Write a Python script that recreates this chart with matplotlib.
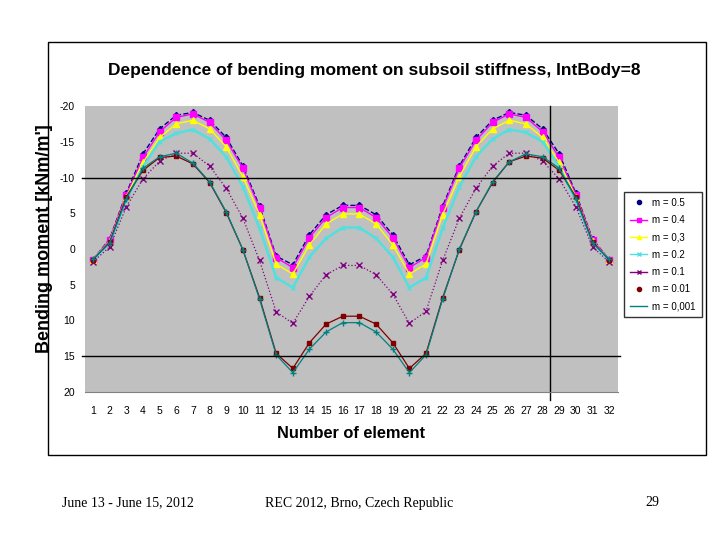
"""Bending moment vs. element number for several subsoil stiffness values."""
import matplotlib
matplotlib.use("Agg")
import matplotlib.pyplot as plt
from matplotlib.lines import Line2D
from matplotlib.patches import Rectangle
import numpy as np

plt.rcParams["font.family"] = ["Liberation Sans", "DejaVu Sans"]

elements = np.arange(1, 33)

m_05 = [1.5, -1.4, -7.8, -13.3, -16.8, -18.7, -19.1, -18.0, -15.6, -11.6, -6.0, 1.0,
        2.2, -2.0, -4.8, -6.1, -6.1, -4.8, -2.0, 2.2, 1.0, -6.0, -11.6, -15.6,
        -18.0, -19.1, -18.7, -16.8, -13.3, -7.8, -1.4, 1.5]
m_04 = [1.5, -1.3, -7.6, -12.8, -16.4, -18.4, -18.9, -17.7, -15.2, -11.3, -5.7, 1.2,
        2.6, -1.6, -4.4, -5.8, -5.8, -4.4, -1.6, 2.6, 1.2, -5.7, -11.3, -15.2,
        -17.7, -18.9, -18.4, -16.4, -12.8, -7.6, -1.3, 1.5]
m_03 = [1.5, -1.1, -7.3, -12.1, -15.6, -17.5, -18.0, -16.8, -14.3, -10.1, -4.8, 2.1,
        3.5, -0.6, -3.5, -4.9, -4.9, -3.5, -0.6, 3.5, 2.1, -4.8, -10.1, -14.3,
        -16.8, -18.0, -17.5, -15.6, -12.1, -7.3, -1.1, 1.5]
m_02 = [1.6, -0.9, -6.8, -11.5, -15.0, -16.2, -16.7, -15.4, -12.9, -8.7, -2.9, 4.0,
        5.4, 1.1, -1.5, -3.0, -3.0, -1.5, 1.1, 5.4, 4.0, -2.9, -8.7, -12.9,
        -15.4, -16.7, -16.3, -15.0, -11.5, -6.8, -0.9, 1.6]
m_01 = [1.8, -0.3, -5.9, -9.8, -12.3, -13.4, -13.4, -11.6, -8.5, -4.3, 1.6, 8.8,
        10.4, 6.6, 3.6, 2.3, 2.3, 3.6, 6.3, 10.4, 8.7, 1.6, -4.3, -8.5,
        -11.6, -13.4, -13.4, -12.3, -9.8, -5.9, -0.3, 1.8]
m_001 = [1.5, -1.0, -7.3, -11.0, -12.8, -13.0, -11.9, -9.3, -5.1, 0.1, 6.8, 14.6,
         16.7, 13.1, 10.5, 9.4, 9.4, 10.5, 13.1, 16.7, 14.6, 6.8, 0.1, -5.2,
         -9.3, -12.2, -13.0, -12.7, -11.0, -7.3, -1.0, 1.5]
m_0001 = [1.4, -0.8, -7.0, -11.3, -12.9, -13.4, -12.0, -9.4, -5.2, 0.1, 7.0, 14.8,
          17.3, 14.0, 11.6, 10.3, 10.3, 11.6, 14.0, 17.3, 14.8, 7.0, 0.0, -5.2,
          -9.4, -12.2, -13.3, -12.9, -11.3, -7.0, -0.8, 1.4]

labels = ["m = 0.5", "m = 0.4", "m = 0,3", "m = 0.2", "m = 0.1", "m = 0.01", "m = 0,001"]
y_ticks = [-20, -15, -10, -5, 0, 5, 10, 15, 20]
y_tick_labels = ["-20", "-15", "-10", "5", "0", "5", "10", "15", "20"]

# (color, marker, markersize, linestyle, linewidth) per series
styles = [
    ("#000080", "D", 3.0, "--", 1.0),
    ("#FF00FF", "s", 4.0, "-", 1.0),
    ("#FFFF00", "^", 4.0, "-", 1.0),
    ("#50E0E0", "x", 3.5, "-", 1.8),
    ("#800080", "x", 4.0, ":", 0.9),
    ("#800000", "s", 3.0, "-", 0.9),
    ("#008080", "+", 4.0, "-", 0.9),
]
series = [m_05, m_04, m_03, m_02, m_01, m_001, m_0001]

fig = plt.figure(figsize=(7.2, 5.4), dpi=100)
fig.patch.set_facecolor("white")

# outer chart frame
fig.patches.append(Rectangle((48 / 720, 1 - 455 / 540), (706 - 48) / 720, (455 - 42) / 540,
                             transform=fig.transFigure, fill=False, edgecolor="black", lw=1.0))

ax = fig.add_axes([84.7 / 720, 1 - 392 / 540, 532.8 / 720, 286 / 540])
ax.set_facecolor("#C0C0C0")

for vals, (c, mk, ms, ls, lw) in zip(series, styles):
    ax.plot(elements, vals, color=c, marker=mk, markersize=ms, linestyle=ls, linewidth=lw,
            markeredgewidth=1.0)

ax.plot([0.34, 32.65], [-10, -10], color="black", lw=1.0, clip_on=False)
ax.plot([0.34, 32.65], [15, 15], color="black", lw=1.0, clip_on=False)
ax.plot([28.45, 28.45], [-20, 21.1], color="black", lw=1.0, clip_on=False)

ax.set_xlim(0.5, 32.5)
ax.set_ylim(20, -20)
ax.set_xticks(elements)
ax.set_xticklabels([str(e) for e in elements], fontsize=7.5)
ax.set_yticks(y_ticks)
ax.set_yticklabels(y_tick_labels, fontsize=7.5)
ax.tick_params(length=0)
ax.tick_params(axis="x", pad=10)
ax.tick_params(axis="y", pad=7)
for side in ["top", "right", "left"]:
    ax.spines[side].set_visible(False)
ax.spines["bottom"].set_color("#808080")

ax.set_xlabel("Number of element", fontsize=11.8, fontweight="bold", labelpad=7)
ax.set_ylabel("Bending moment [kNm/m']", fontsize=13, fontweight="bold")
ax.yaxis.set_label_coords(-0.0595, 0.535)

fig.text(374 / 720, 1 - 70 / 540, "Dependence of bending moment on subsoil stiffness, IntBody=8",
         ha="center", va="center", fontsize=12.5, fontweight="bold")

handles = []
for lab, (c, mk, ms, ls, lw) in zip(labels, styles):
    if lab in ("m = 0.5", "m = 0.01"):
        handles.append(Line2D([], [], color=c, marker="o", markersize=3, linestyle="none"))
    elif lab == "m = 0,001":
        handles.append(Line2D([], [], color=c, linestyle="-", linewidth=1.0))
    else:
        handles.append(Line2D([], [], color=c, marker=mk, markersize=3, linestyle="-",
                              linewidth=1.0))
leg = fig.legend(handles, labels, loc="upper left", bbox_to_anchor=(624 / 720, 1 - 192 / 540),
                 fontsize=7, frameon=True, fancybox=False, edgecolor="black",
                 borderaxespad=0, handlelength=1.8, handletextpad=0.5, labelspacing=0.75,
                 borderpad=0.6)
leg.get_frame().set_linewidth(1.0)

serif = ["Liberation Serif", "DejaVu Serif"]
fig.text(62 / 720, 1 - 503 / 540, "June 13 - June 15, 2012", family=serif, fontsize=10, va="center")
fig.text(265 / 720, 1 - 503 / 540, "REC 2012, Brno, Czech Republic", family=serif, fontsize=10,
         va="center")
fig.text(645 / 720, 1 - 503 / 540, "29", family=serif, fontsize=10, va="center")

fig.savefig("out.png", dpi=100)
